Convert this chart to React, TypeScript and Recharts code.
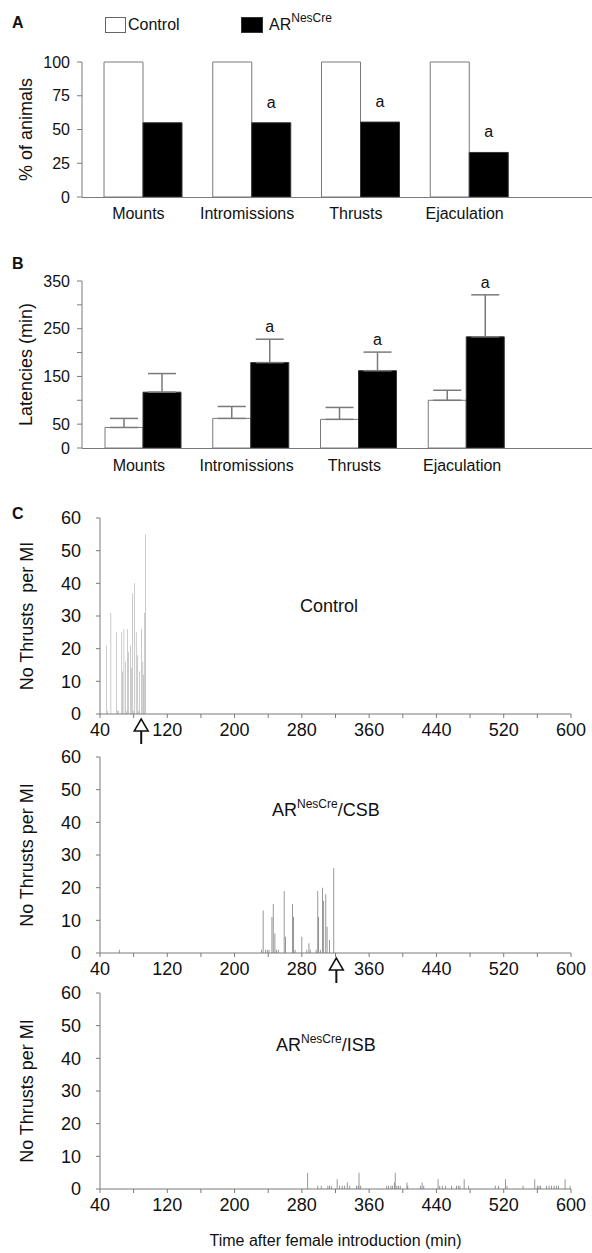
import React from "react";
import {
  BarChart,
  Bar,
  XAxis,
  YAxis,
  ErrorBar,
  LabelList,
  ComposedChart,
  ReferenceDot,
} from "recharts";

// panel A / B
const behaviours = ["Mounts", "Intromissions", "Thrusts", "Ejaculation"];
const pctControl = [100, 100, 100, 100];
const pctAR = [55, 55, 55.5, 33];
const pctSig = ["", "a", "a", "a"];
const pctTicks = [0, 25, 50, 75, 100];

const latControl = [43, 62, 60, 100];
const latControlSem = [19, 25, 25, 21];
const latAR = [117, 179, 162, 233];
const latARSem = [39, 49, 39, 88];
const latSig = ["", "a", "a", "a"];
const latTicks = [0, 50, 100, 150, 200, 250, 300, 350];
const latLabels = [0, 50, 150, 250, 350];

// panel C
const timeTicks = [40, 80, 120, 160, 200, 240, 280, 320, 360, 400, 440, 480, 520, 560, 600];
const timeLabels = [40, 120, 200, 280, 360, 440, 520, 600];
const thrustTicks = [0, 10, 20, 30, 40, 50, 60];

const controlMin = [48, 49, 53, 60, 60.5, 62, 66, 67, 68.5, 70, 72, 73, 74, 76, 77.5, 79, 80, 81, 83, 85, 86, 87, 89.5, 91, 92, 93, 94];
const controlThrusts = [21, 1, 31, 25, 1, 1, 25, 13, 26, 16, 1, 26, 19, 21, 14, 37, 1, 40, 25, 18, 1, 13, 26, 16, 12, 31, 55];
const controlEjac = 89;

const csbMin = [63, 232, 234, 237, 239, 241, 244.5, 246, 248, 250, 252, 259, 260.5, 268.8, 270, 272, 280, 286, 288.5, 290, 297, 299, 300, 302, 304.5, 306, 308.5, 310, 313, 318];
const csbThrusts = [1, 1, 13, 1, 1, 1, 11, 15, 6, 1, 1, 19, 5, 15, 11, 1, 5, 1, 3, 1, 1, 19, 11, 1, 20, 16, 18, 8, 4, 26];
const csbEjac = 321;

const isbMin = [287, 299, 303, 311, 313, 315, 322, 325, 328, 331, 334, 337, 345, 347, 348, 350, 381, 383, 386, 388, 390, 391, 393, 395, 397, 405, 406, 421, 423, 425, 442, 444, 447, 451, 458, 464, 466, 468, 473, 478, 510, 514, 522, 524, 543, 557, 560, 562, 564, 571, 574, 577, 580, 583, 585, 593, 599];
const isbThrusts = [5, 1, 1, 1, 1, 1, 3, 1, 1, 1, 2, 1, 1, 1, 5, 1, 1, 1, 1, 1, 2, 5, 1, 1, 1, 2, 1, 1, 2, 1, 3, 1, 1, 1, 1, 1, 1, 1, 3, 1, 1, 1, 3, 1, 1, 3, 1, 1, 1, 1, 1, 1, 1, 1, 1, 3, 1];

const pctData = behaviours.map((name, i) => ({
  name,
  control: pctControl[i],
  ar: pctAR[i],
  sig: pctSig[i],
}));

const latData = behaviours.map((name, i) => ({
  name,
  control: latControl[i],
  controlErr: [0, latControlSem[i]],
  ar: latAR[i],
  arErr: [0, latARSem[i]],
  sig: latSig[i],
}));

const toEvents = (mins: number[], counts: number[]) =>
  mins.map((t, i) => ({ t, n: counts[i] }));

const INK = "#111";
const AXIS = "#7a7a7a";
const SPIKE = "#777";

function SigLabel(props: any) {
  const { value, index, errs, means, gap } = props;
  if (!value) return null;
  const vb = props.viewBox ?? props;
  const { x, y, width, height } = vb;
  const top = Math.min(y, y + height);
  const h = Math.abs(height);
  const lift = errs && means ? (errs[index] * h) / means[index] : 0;
  return (
    <text x={x + width / 2} y={top - lift - gap} textAnchor="middle" fontSize={16} fill={INK}>
      {value}
    </text>
  );
}

function EjacArrow(props: any) {
  const { cx, cy } = props;
  if (typeof cx !== "number" || typeof cy !== "number") return null;
  const top = cy + 5;
  return (
    <g>
      <path
        d={`M${cx},${top} L${cx - 7},${top + 12} L${cx + 7},${top + 12} Z`}
        fill="#fff"
        stroke={INK}
        strokeWidth={1.5}
      />
      <line x1={cx} y1={top + 12} x2={cx} y2={top + 27} stroke={INK} strokeWidth={2} />
    </g>
  );
}

function Sup({ children }: { children: React.ReactNode }) {
  return <span style={{ fontSize: 12, position: "relative", top: -8 }}>{children}</span>;
}

// x baseline of panels A and B runs the full width, past the last category
function Baseline({ top }: { top: number }) {
  return (
    <div style={{ position: "absolute", left: 82, top, width: 510, height: 1, background: AXIS }} />
  );
}

function ThrustChart({
  events,
  top,
  marginTop,
  ylabel,
  ejac,
  last,
}: {
  events: { t: number; n: number }[];
  top: number;
  marginTop: number;
  ylabel: string;
  ejac?: number;
  last?: boolean;
}) {
  const axisH = last ? 64 : 30;
  return (
    <div style={{ position: "absolute", left: 0, top }}>
      <ComposedChart
        width={592}
        height={marginTop + 196 + axisH}
        data={events}
        margin={{ top: marginTop, right: 21, bottom: 0, left: 0 }}
      >
        <XAxis
          dataKey="t"
          type="number"
          domain={[40, 600]}
          ticks={timeTicks}
          allowDataOverflow
          height={axisH}
          stroke={AXIS}
          tickSize={4}
          tickMargin={5}
          tick={{ fontSize: 18, fill: INK }}
          tickFormatter={(v: number) => (timeLabels.includes(v) ? String(v) : "")}
          interval={0}
          label={
            last
              ? {
                  value: "Time after female introduction (min)",
                  position: "insideBottom",
                  offset: 7,
                  style: { fontSize: 16, fill: INK },
                }
              : undefined
          }
        />
        <YAxis
          type="number"
          domain={[0, 60]}
          ticks={thrustTicks}
          width={100}
          stroke={AXIS}
          tickSize={4}
          tickMargin={15}
          tick={{ fontSize: 18, fill: INK }}
          interval={0}
          label={{
            value: ylabel,
            angle: -90,
            position: "insideLeft",
            offset: 27,
            style: { textAnchor: "middle", fontSize: 18, fill: INK },
          }}
        />
        <Bar dataKey="n" barSize={1} fill={SPIKE} isAnimationActive={false} />
        {ejac !== undefined && (
          <ReferenceDot x={ejac} y={0} r={0} shape={<EjacArrow />} />
        )}
      </ComposedChart>
    </div>
  );
}

export default function App() {
  return (
    <div
      style={{
        position: "relative",
        width: 592,
        height: 1253,
        overflow: "hidden",
        background: "#fff",
        fontFamily: "'Liberation Sans', Arial, sans-serif",
        color: INK,
      }}
    >
      <style>{"body{margin:0}"}</style>

      {/* panel letters and legend */}
      <div style={{ position: "absolute", left: 12, top: 15, fontSize: 16, fontWeight: 700, lineHeight: "16px" }}>A</div>
      <div style={{ position: "absolute", left: 12, top: 256, fontSize: 16, fontWeight: 700, lineHeight: "16px" }}>B</div>
      <div style={{ position: "absolute", left: 12, top: 506, fontSize: 16, fontWeight: 700, lineHeight: "16px" }}>C</div>

      <div style={{ position: "absolute", left: 105, top: 17, width: 19, height: 14, border: "1px solid #666", background: "#fff" }} />
      <div style={{ position: "absolute", left: 128, top: 17, fontSize: 16, lineHeight: "16px" }}>Control</div>
      <div style={{ position: "absolute", left: 241, top: 17, width: 20, height: 14, border: "1px solid #333", background: "#000" }} />
      <div style={{ position: "absolute", left: 269, top: 17, fontSize: 16, lineHeight: "16px", whiteSpace: "nowrap" }}>
        AR<Sup>NesCre</Sup>
      </div>

      {/* A */}
      <div style={{ position: "absolute", left: 0, top: 0 }}>
        <BarChart
          width={592}
          height={227}
          data={pctData}
          barGap={0}
          margin={{ top: 62, right: 0, bottom: 0, left: 0 }}
        >
          <XAxis
            dataKey="name"
            height={30}
            axisLine={false}
            tickLine={false}
            tickSize={6}
            tickMargin={5}
            padding={{ left: 7, right: 68 }}
            tick={{ fontSize: 16, fill: INK, dx: -5 }}
            interval={0}
          />
          <YAxis
            domain={[0, 100]}
            ticks={pctTicks}
            width={82}
            stroke={AXIS}
            tickSize={5}
            tickMargin={7}
            tick={{ fontSize: 16, fill: INK }}
            interval={0}
            label={{
              value: "% of animals",
              angle: -90,
              position: "insideLeft",
              offset: 26,
              style: { textAnchor: "middle", fontSize: 18, fill: INK },
            }}
          />
          <Bar dataKey="control" barSize={39} fill="#fff" stroke={AXIS} isAnimationActive={false} />
          <Bar dataKey="ar" barSize={39} fill="#000" stroke="#333" isAnimationActive={false}>
            <LabelList dataKey="sig" content={<SigLabel gap={15} />} />
          </Bar>
        </BarChart>
      </div>
      <Baseline top={197} />

      {/* B */}
      <div style={{ position: "absolute", left: 0, top: 240 }}>
        <BarChart
          width={592}
          height={238}
          data={latData}
          barGap={0}
          margin={{ top: 41, right: 0, bottom: 0, left: 0 }}
        >
          <XAxis
            dataKey="name"
            height={30}
            axisLine={false}
            tickLine={false}
            tickSize={6}
            tickMargin={6}
            padding={{ left: 7, right: 72 }}
            tick={{ fontSize: 16, fill: INK, dx: -4 }}
            interval={0}
          />
          <YAxis
            domain={[0, 350]}
            ticks={latTicks}
            width={82}
            stroke={AXIS}
            tickSize={5}
            tickMargin={7}
            tick={{ fontSize: 16, fill: INK }}
            tickFormatter={(v: number) => (latLabels.includes(v) ? String(v) : "")}
            interval={0}
            label={{
              value: "Latencies (min)",
              angle: -90,
              position: "insideLeft",
              offset: 26,
              style: { textAnchor: "middle", fontSize: 18, fill: INK },
            }}
          />
          <Bar dataKey="control" barSize={38} fill="#fff" stroke={AXIS} isAnimationActive={false}>
            <ErrorBar dataKey="controlErr" width={14} stroke={AXIS} direction="y" />
          </Bar>
          <Bar dataKey="ar" barSize={38} fill="#000" stroke="#333" isAnimationActive={false}>
            <ErrorBar dataKey="arErr" width={14} stroke={AXIS} direction="y" />
            <LabelList dataKey="sig" content={<SigLabel gap={7} errs={latARSem} means={latAR} />} />
          </Bar>
        </BarChart>
      </div>
      <Baseline top={448} />

      {/* C */}
      <ThrustChart
        events={toEvents(controlMin, controlThrusts)}
        top={480}
        marginTop={38}
        ylabel={"No Thrusts\u00a0 per MI"}
        ejac={controlEjac}
      />
      <ThrustChart
        events={toEvents(csbMin, csbThrusts)}
        top={720}
        marginTop={37}
        ylabel="No Thrusts per MI"
        ejac={csbEjac}
      />
      <ThrustChart
        events={toEvents(isbMin, isbThrusts)}
        top={960}
        marginTop={33}
        ylabel="No Thrusts per MI"
        last
      />

      <div style={{ position: "absolute", left: 300, top: 597, fontSize: 18, lineHeight: "18px" }}>Control</div>
      <div style={{ position: "absolute", left: 272, top: 801, fontSize: 18, lineHeight: "18px", whiteSpace: "nowrap" }}>
        AR<Sup>NesCre</Sup>/CSB
      </div>
      <div style={{ position: "absolute", left: 276, top: 1036, fontSize: 18, lineHeight: "18px", whiteSpace: "nowrap" }}>
        AR<Sup>NesCre</Sup>/ISB
      </div>
    </div>
  );
}
